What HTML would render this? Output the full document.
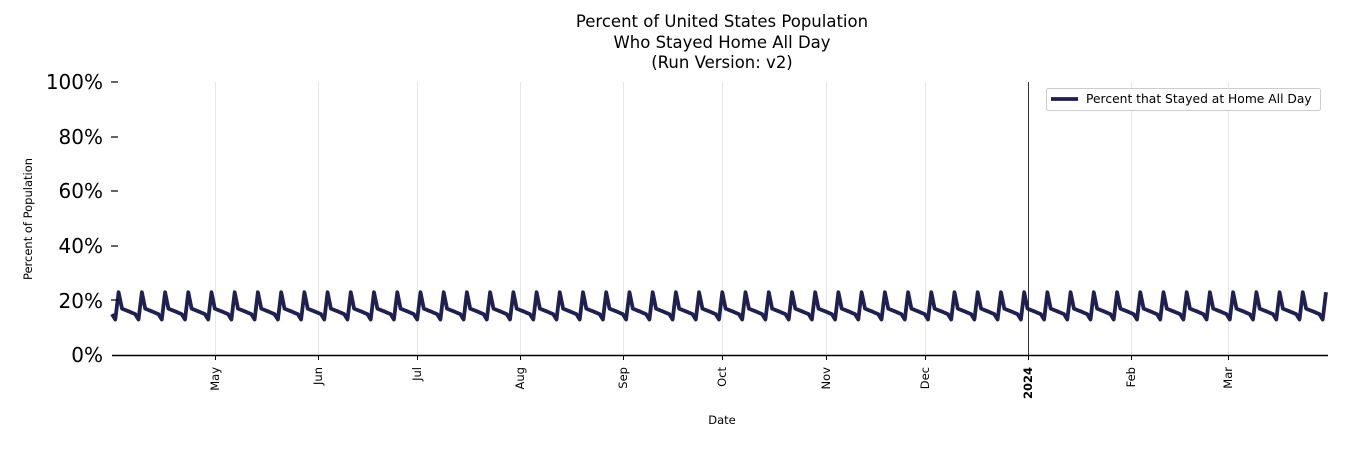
<!DOCTYPE html><html><head><style>body{margin:0;background:#fff}svg{display:block}text{font-family:"DejaVu Sans","Liberation Sans",sans-serif}</style></head><body>
<svg id="s" width="1350" height="450" xmlns="http://www.w3.org/2000/svg">
<g font-size="16.5" text-anchor="middle" fill="#000">
<text x="722" y="27">Percent of United States Population</text>
<text x="722" y="48">Who Stayed Home All Day</text>
<text x="722" y="68">(Run Version: v2)</text>
</g>
<g stroke="#e6e6e6" stroke-width="1">
<line x1="215.5" y1="82" x2="215.5" y2="355"/><line x1="318.5" y1="82" x2="318.5" y2="355"/><line x1="417.5" y1="82" x2="417.5" y2="355"/><line x1="520.5" y1="82" x2="520.5" y2="355"/><line x1="623.5" y1="82" x2="623.5" y2="355"/><line x1="722.5" y1="82" x2="722.5" y2="355"/><line x1="826.5" y1="82" x2="826.5" y2="355"/><line x1="925.5" y1="82" x2="925.5" y2="355"/><line x1="1131.5" y1="82" x2="1131.5" y2="355"/><line x1="1228.5" y1="82" x2="1228.5" y2="355"/>
</g>
<line x1="1028.5" y1="82" x2="1028.5" y2="355" stroke="#333" stroke-width="1"/>
<path id="p" fill="none" stroke="#1f2050" stroke-width="3.8" stroke-linejoin="round"/>
<line x1="112" y1="355.5" x2="1328" y2="355.5" stroke="#000" stroke-width="1.5"/>
<g font-size="20" text-anchor="end">
<text x="103" y="89">100%</text><text x="103" y="144">80%</text><text x="103" y="198">60%</text><text x="103" y="253">40%</text><text x="103" y="308">20%</text><text x="103" y="362">0%</text>
</g>
<g stroke="#000" stroke-width="1.2"><line x1="111" y1="82" x2="118" y2="82"/><line x1="111" y1="137" x2="118" y2="137"/><line x1="111" y1="191" x2="118" y2="191"/><line x1="111" y1="246" x2="118" y2="246"/><line x1="111" y1="300" x2="118" y2="300"/></g>
<g stroke="#000"><line x1="215.5" y1="355" x2="215.5" y2="360"/><line x1="318.5" y1="355" x2="318.5" y2="360"/><line x1="417.5" y1="355" x2="417.5" y2="360"/><line x1="520.5" y1="355" x2="520.5" y2="360"/><line x1="623.5" y1="355" x2="623.5" y2="360"/><line x1="722.5" y1="355" x2="722.5" y2="360"/><line x1="826.5" y1="355" x2="826.5" y2="360"/><line x1="925.5" y1="355" x2="925.5" y2="360"/><line x1="1028.5" y1="355" x2="1028.5" y2="360"/><line x1="1131.5" y1="355" x2="1131.5" y2="360"/><line x1="1228.5" y1="355" x2="1228.5" y2="360"/></g>
<g font-size="11.5" text-anchor="end">
<text transform="translate(219,367) rotate(-90)">May</text>
<text transform="translate(322,367) rotate(-90)">Jun</text>
<text transform="translate(421,367) rotate(-90)">Jul</text>
<text transform="translate(524,367) rotate(-90)">Aug</text>
<text transform="translate(627,367) rotate(-90)">Sep</text>
<text transform="translate(726,367) rotate(-90)">Oct</text>
<text transform="translate(830,367) rotate(-90)">Nov</text>
<text transform="translate(929,367) rotate(-90)">Dec</text>
<text transform="translate(1032,367) rotate(-90)" font-weight="bold">2024</text>
<text transform="translate(1135,367) rotate(-90)">Feb</text>
<text transform="translate(1232,367) rotate(-90)">Mar</text>
</g>
<text x="722" y="424" font-size="11.5" text-anchor="middle">Date</text>
<text transform="translate(32,219) rotate(-90)" font-size="11.5" text-anchor="middle">Percent of Population</text>
<rect x="1046.5" y="88.5" width="274" height="22" fill="#fff" stroke="#ccc" rx="2"/>
<line x1="1051" y1="99" x2="1078" y2="99" stroke="#1f2050" stroke-width="3.8"/>
<text x="1086" y="103" font-size="12.3">Percent that Stayed at Home All Day</text>
</svg>
<script>
var v=[23,17,16.5,16,15.5,15,13],d="";
for(var i=0;i<=366;i++){var x=112+i*3.317;if(x>1328)x=1328;var k=((i-2)%7+7)%7;var y=355-v[k]*2.73;d+=(i?"L":"M")+x.toFixed(1)+","+y.toFixed(1);}
document.getElementById("p").setAttribute("d",d);
</script>
</body></html>
